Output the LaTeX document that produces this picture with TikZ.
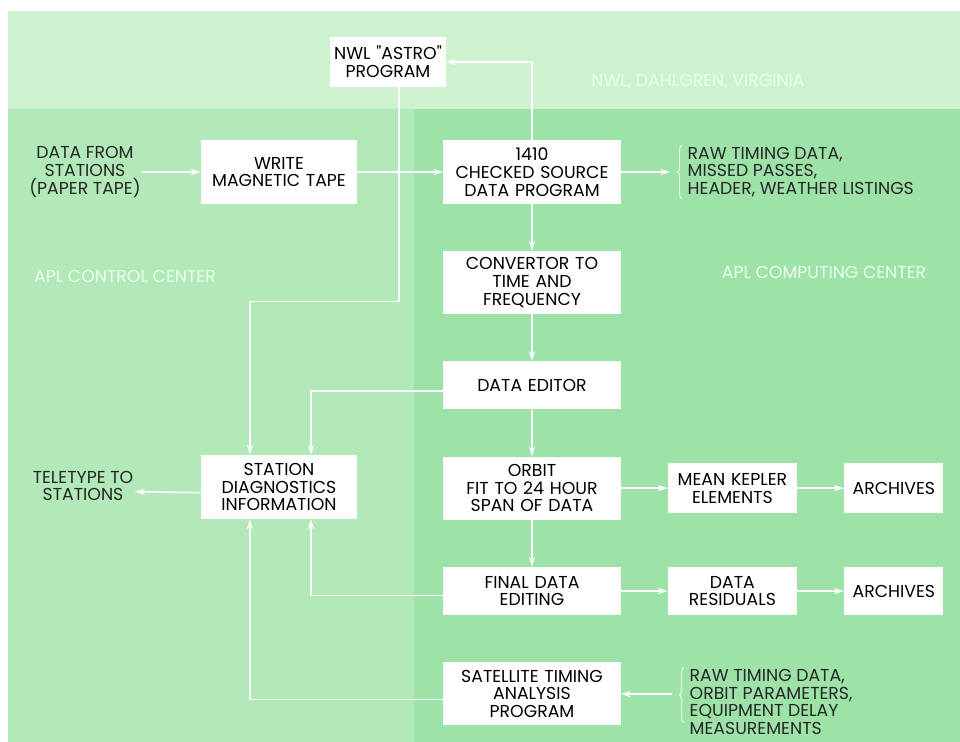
\documentclass[tikz,border=0pt]{standalone}
\usepackage{fontspec}
\setmainfont{Poppins}[Ligatures=TeXOff]
\usepackage{xcolor}
\usetikzlibrary{positioning, arrows.meta, decorations.pathreplacing}

\definecolor{nwlgreen}{RGB}{206,241,208}
\definecolor{ctrlgreen}{RGB}{178,233,184}
\definecolor{compgreen}{RGB}{157,227,168}

\begin{document}
\begin{tikzpicture}[
    x=0.025cm, y=-0.025cm,
    node distance=1.17cm,
    font=\fontsize{12.3}{12.6}\selectfont,
    block/.style={
        rectangle,
        fill=white,
        text width=4.3cm,
        align=center,
        minimum width=4.425cm,
        minimum height=1.575cm,
        inner sep=0pt
    },
    small/.style={
        block,
        text width=3.1cm,
        minimum width=3.225cm,
        minimum height=1.25cm
    },
    store/.style={
        block,
        text width=2.3cm,
        minimum width=2.475cm,
        minimum height=1.25cm
    },
    plain/.style={align=center, text=black!85, inner sep=1pt},
    region/.style={text=white!92!green},
    arrow/.style={-{Stealth[length=7pt, width=4.5pt]}, white, line width=1.1pt},
    bracket/.style={white!90!green, line width=0.7pt, decorate,
        decoration={brace, amplitude=3pt}}
]
\useasboundingbox (0,0) rectangle (960,742);

% Background areas
\fill [white] (0,0) rectangle (960,742);
\fill [nwlgreen] (8,11) rectangle (960,109);
\fill [ctrlgreen] (8,109) rectangle (414,742);
\fill [compgreen] (414,109) rectangle (960,742);

% Area names
\node (nwl) [region] at (698,82) {NWL, DAHLGREN, VIRGINIA};
\node (ctrl) [region] at (125,276) {APL CONTROL CENTER};
\node (comp) [region] at (824,272) {APL COMPUTING CENTER};

% Input
\node (input) [plain] at (85,172) {DATA FROM\\STATIONS\\(PAPER TAPE)};

% Write tape
\node (tape) [block, text width=3.8cm, minimum width=3.9cm, minimum height=1.6cm]
    at (279,172) {WRITE\\MAGNETIC TAPE};

% NWL program
\node (astro) [small, text width=2.8cm, minimum width=2.875cm] at (388,62)
    {NWL "ASTRO"\\PROGRAM};

% Main column
\node (src) [block] at (532,172) {1410\\CHECKED SOURCE\\DATA PROGRAM};
\node (conv) [block, below=of src] {CONVERTOR TO\\TIME AND\\FREQUENCY};
\node (edit) [block, minimum height=1.2cm, below=of conv] {DATA EDITOR};
\node (orbit) [block, below=of edit] {ORBIT\\FIT TO 24 HOUR\\SPAN OF DATA};
\node (final) [block, minimum height=1.2cm, below=of orbit] {FINAL DATA\\EDITING};
\node (sat) [block, below=of final] {SATELLITE TIMING\\ANALYSIS\\PROGRAM};

% Outputs to the right
\node (kepler) [small, right=of orbit] {MEAN KEPLER\\ELEMENTS};
\node (arch1) [store, right=of kepler] {ARCHIVES};
\node (resid) [small, minimum height=1.2cm, right=of final] {DATA\\RESIDUALS};
\node (arch2) [store, minimum height=1.2cm, right=of resid] {ARCHIVES};

% Listings
\node (raw1) [plain, align=left, anchor=west] at (686,172)
    {RAW TIMING DATA,\\MISSED PASSES,\\HEADER, WEATHER LISTINGS};
\node (raw2) [plain, align=left, anchor=west] at (688,702)
    {RAW TIMING DATA,\\ORBIT PARAMETERS,\\EQUIPMENT DELAY\\MEASUREMENTS};
\draw [bracket] ([xshift=-3pt]raw1.south west) -- ([xshift=-3pt]raw1.north west);
\draw [bracket] ([xshift=-3pt, yshift=0.35cm]raw2.south west) -- ([xshift=-3pt]raw2.north west);

% Station diagnostics
\node (diag) [block, text width=3.8cm, minimum width=3.9cm, minimum height=1.6cm]
    at (279,487) {STATION\\DIAGNOSTICS\\INFORMATION};
\node (tty) [plain] at (83,486) {TELETYPE TO\\STATIONS};

% Connections
\draw [arrow] (input) -- (tape);
\draw [arrow] (tape) -- (src);
\draw [arrow] (src) -- ([xshift=-0.4cm]raw1.west);
\draw [arrow] (src.north) |- (astro.east);
\draw [arrow] ([xshift=0.275cm]astro.south) -- ++(0,214) -| ([xshift=-0.725cm]diag.north);
\draw [arrow] (src) -- (conv);
\draw [arrow] (conv) -- (edit);
\draw [arrow] (edit) -- (orbit);
\draw [arrow] ([yshift=-4pt]edit.west) -| ([xshift=0.8cm]diag.north);
\draw [arrow] (orbit) -- (final);
\draw [arrow] (orbit) -- (kepler);
\draw [arrow] (kepler) -- (arch1);
\draw [arrow] (final) -- (resid);
\draw [arrow] (resid) -- (arch2);
\draw [arrow] ([yshift=-3pt]final.west) -| ([xshift=0.8cm]diag.south);
\draw [arrow] ([yshift=-4pt]sat.west) -| ([xshift=-0.725cm]diag.south);
\draw [arrow] ([yshift=-4pt]diag.west) -- ([yshift=-4pt]tty.east);
\draw [arrow] ([xshift=-0.4cm]raw2.west |- sat.east) -- (sat.east);

\end{tikzpicture}
\end{document}
